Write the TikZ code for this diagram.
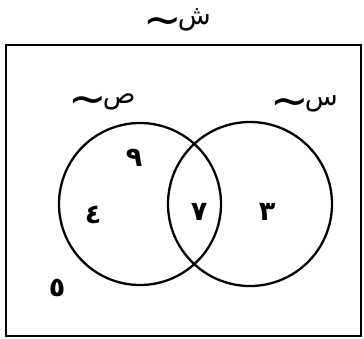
\documentclass[tikz,border=0pt]{standalone}
\usepackage{fontspec}
\newfontfamily\arabicfont[Script=Arabic]{DejaVu Sans}
\TeXXeTstate=1
\newcommand{\setname}[1]{\raisebox{-0.75ex}{\fontsize{46}{46}\selectfont\char"007E}\kern-4pt\beginR #1\endR}
\begin{document}
\begin{tikzpicture}[x=1pt,y=-1pt,
  setlabel/.style={font=\arabicfont\fontsize{27}{32}\selectfont, inner sep=0pt},
  digit/.style={font=\arabicfont\bfseries\fontsize{27}{30}\selectfont, inner sep=0pt},
  setcircle/.style={draw, line width=2.3pt}]
\useasboundingbox (0,0) rectangle (364,338);
\node[draw, line width=2.6pt, minimum width=355pt, minimum height=291pt, inner sep=0pt] (U) at (183.5,190.5) {};
\node[setcircle, circle, minimum size=162pt, inner sep=0pt] (A) at (140,204) {};
\node[setcircle, circle, minimum size=164pt, inner sep=0pt] (B) at (250,204) {};
\node[setlabel] (lU) at (177,22) {\setname{ش}};
\node[setlabel] (lA) at (102,104) {\setname{ص}};
\node[setlabel] (lB) at (304,106) {\setname{س}};
\node[digit] (d9) at (134,158) {٩};
\node[digit] (d4) at (93,215) {٤};
\node[digit] (d7) at (199,212) {٧};
\node[digit] (d3) at (267,212) {٣};
\node[digit] (d5) at (57,288) {٥};
\end{tikzpicture}
\end{document}
